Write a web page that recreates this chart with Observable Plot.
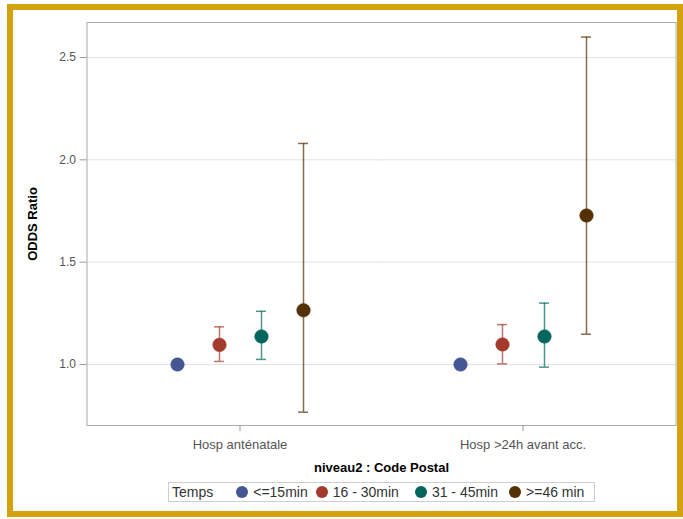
<!DOCTYPE html>
<html>
<head>
<meta charset="utf-8">
<script src="https://cdn.jsdelivr.net/npm/d3@7"></script>
<script src="https://cdn.jsdelivr.net/npm/@observablehq/plot@0.6"></script>
<style>
  html, body { margin: 0; padding: 0; background: #fff; width: 683px; height: 519px; overflow: hidden; }
  #border { position: absolute; left: 7px; top: 4px; width: 664px; height: 501px; border: 6px solid #D4A20E; background: #fff; }
  #chart { position: absolute; left: 0; top: 0; }
  #chart svg g[aria-label="y-axis label"] text,
  #chart svg g[aria-label="fx-axis label"] text { font-weight: bold; fill: #000; font-size: 13px; }
  #chart svg g[aria-label="fx-axis tick label"] text { font-size: 13px; }
  #legend { position: absolute; left: 155px; top: 472px; height: 20px; width: 427px; box-sizing: border-box; border: 1px solid #cfcfcf;
    font-family: "Liberation Sans", Arial, sans-serif; font-size: 14px; color: #333; display: flex; align-items: center; padding: 0 0 0 3px; white-space: nowrap; }
  #legend .title { margin-right: 23px; }
  #legend .item { display: flex; align-items: center; margin-right: 11px; }
  #legend .item:nth-child(2) { margin-right: 8px; }
  #legend .item:nth-child(3) { margin-right: 16px; }
  #legend .sw { width: 12px; height: 12px; border-radius: 50%; margin-right: 5px; display: inline-block; }
</style>
</head>
<body>
<div id="border"><div id="chart"></div><div id="legend"></div></div>
<script>
const categories = ["Hosp anténatale", "Hosp >24h avant acc."];
const groups = ["<=15min", "16 - 30min", "31 - 45min", ">=46 min"];
const colors = ["#445694", "#A23A2E", "#01665E", "#543005"];
const oddsAntenatale = [1.0, 1.096, 1.137, 1.265];
const lowerAntenatale = [null, 1.015, 1.025, 0.767];
const upperAntenatale = [null, 1.184, 1.26, 2.08];
const odds24h = [1.0, 1.098, 1.137, 1.728];
const lower24h = [null, 1.003, 0.987, 1.148];
const upper24h = [null, 1.195, 1.30, 2.60];
const yTicks = [1.0, 1.5, 2.0, 2.5];
const legendTitle = "Temps";

const rows = [];
[[oddsAntenatale, lowerAntenatale, upperAntenatale], [odds24h, lower24h, upper24h]].forEach(([o, l, u], ci) => {
  groups.forEach((g, gi) => {
    rows.push({category: categories[ci], group: g, odds: o[gi], lo: l[gi], hi: u[gi]});
  });
});
const ciRows = rows.filter(d => d.lo != null);
const grid1 = yTicks.map(v => ({category: categories[0], v}));
const grid2 = yTicks.map(v => ({category: categories[1], v}));

const chart = Plot.plot({
  width: 664,
  height: 470,
  marginLeft: 73,
  marginRight: 2,
  marginTop: 12,
  marginBottom: 55,
  style: {fontFamily: "Liberation Sans, Arial, sans-serif", fontSize: "12px", color: "#555", background: "transparent"},
  fx: {domain: categories, paddingInner: 0.1, paddingOuter: 0.09},
  x: {domain: groups, type: "band", paddingInner: 0.762, paddingOuter: 1.416, axis: null},
  y: {domain: [0.702, 2.671]},
  color: {domain: groups, range: colors},
  marks: [
    Plot.ruleY(grid1, {fx: "category", y: "v", stroke: "#e2e2e2", insetLeft: -25.5, insetRight: -15}),
    Plot.ruleY(grid2, {fx: "category", y: "v", stroke: "#e2e2e2", insetLeft: -15, insetRight: -25.5}),
    Plot.frame({stroke: "#aaaaaa", facet: "super", insetLeft: -25.5, insetRight: -25.5}),
    Plot.axisY(yTicks, {tickSize: 7, tickPadding: 4, dx: -25.5, tickFormat: d3.format(".1f"), stroke: "#999", fill: "#555",
      label: "ODDS Ratio", labelAnchor: "center", labelOffset: 85, labelArrow: "none"}),
    Plot.axisFx({anchor: "bottom", tickSize: 6, tickPadding: 8, stroke: "#999", fill: "#555",
      label: "niveau2 : Code Postal", labelAnchor: "center", labelOffset: 46, labelArrow: "none"}),
    Plot.ruleX(ciRows, {fx: "category", x: "group", y1: "lo", y2: "hi", stroke: "group", strokeOpacity: 0.7, strokeWidth: 1.5}),
    Plot.tickY(ciRows, {fx: "category", x: "group", y: "lo", stroke: "group", strokeOpacity: 0.7, strokeWidth: 1.5}),
    Plot.tickY(ciRows, {fx: "category", x: "group", y: "hi", stroke: "group", strokeOpacity: 0.7, strokeWidth: 1.5}),
    Plot.dot(rows, {fx: "category", x: "group", y: "odds", fill: "group", r: 6.8, stroke: "group", strokeWidth: 0.5})
  ]
});
document.getElementById("chart").appendChild(chart);

const leg = document.getElementById("legend");
const t = document.createElement("span");
t.className = "title"; t.textContent = legendTitle;
leg.appendChild(t);
groups.forEach((g, i) => {
  const it = document.createElement("span");
  it.className = "item";
  const sw = document.createElement("span");
  sw.className = "sw"; sw.style.background = colors[i];
  const lab = document.createElement("span");
  lab.textContent = g;
  it.appendChild(sw); it.appendChild(lab);
  leg.appendChild(it);
});
</script>
</body>
</html>
